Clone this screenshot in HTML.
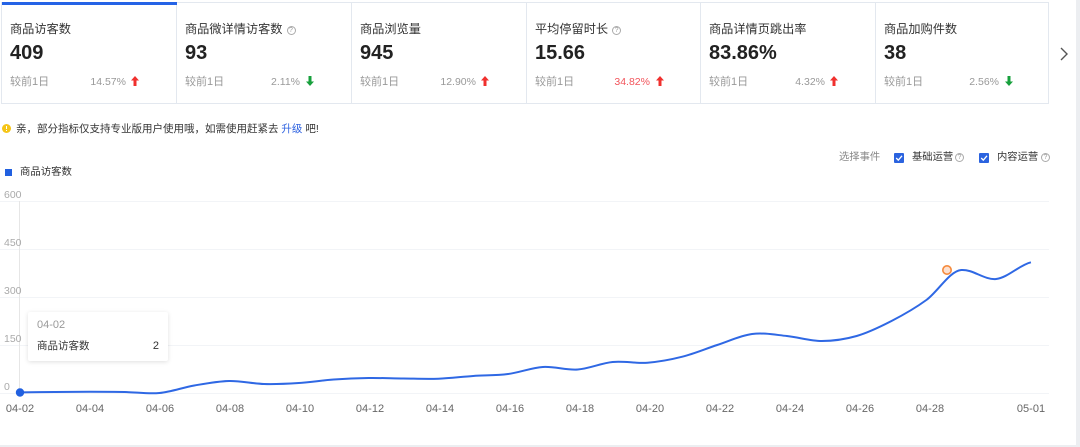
<!DOCTYPE html>
<html><head><meta charset="utf-8"><style>
*{margin:0;padding:0;box-sizing:border-box}
html,body{width:1080px;height:447px;overflow:hidden;background:#eceef1;font-family:"Liberation Sans","Noto Sans CJK SC",sans-serif}
#panel{position:absolute;left:0;top:0;width:1076px;height:445px;background:#fff}
.cards{position:absolute;left:1px;top:2px;width:1048px;height:102px;border:1px solid #e3e8ef}
.card{position:absolute;top:0;height:100px;border-right:1px solid #e3e8ef}
.t{position:absolute;left:8px;top:18px;font-size:12.2px;color:#333;white-space:nowrap;line-height:16px}
.v{position:absolute;left:8px;top:38px;font-size:20px;font-weight:bold;color:#222;line-height:24px}
.f{position:absolute;left:8px;top:72px;font-size:11px;color:#999;line-height:14px;white-space:nowrap}
.p{position:absolute;right:auto;top:72px;width:80px;font-size:10.5px;color:#999;line-height:14px;text-align:right}
.ar{position:absolute;top:73px}
.q{display:inline-block;width:9px;height:9px;border:1px solid #aaa;border-radius:50%;font-size:7px;line-height:7px;text-align:center;color:#999;vertical-align:1px;margin-left:4px}
.abs{position:absolute;white-space:nowrap}
.cb{position:absolute;width:10px;height:10px;background:#2b63df;border-radius:1px}
</style></head><body>
<div id="panel">
<div class="cards">
  <div style="position:absolute;left:0;top:-1px;width:175px;height:3px;background:#2563e6;z-index:2"></div>
  <div class="card" style="left:0;width:175px">
    <div class="t">商品访客数</div><div class="v">409</div><div class="f">较前1日</div>
    <div class="p" style="left:44px">14.57%</div>
    <svg class="ar" style="left:129px" width="8" height="10" viewBox="0 0 8 10"><path d="M4 0L8 4.5H5.5V10H2.5V4.5H0Z" fill="#f0302e"/></svg>
  </div>
  <div class="card" style="left:175px;width:175px">
    <div class="t">商品微详情访客数<span class="q">?</span></div><div class="v">93</div><div class="f">较前1日</div>
    <div class="p" style="left:43px">2.11%</div>
    <svg class="ar" style="left:129px" width="8" height="10" viewBox="0 0 8 10"><path d="M4 10L8 5.5H5.5V0H2.5V5.5H0Z" fill="#17a03c"/></svg>
  </div>
  <div class="card" style="left:350px;width:175px">
    <div class="t">商品浏览量</div><div class="v">945</div><div class="f">较前1日</div>
    <div class="p" style="left:44px">12.90%</div>
    <svg class="ar" style="left:129px" width="8" height="10" viewBox="0 0 8 10"><path d="M4 0L8 4.5H5.5V10H2.5V4.5H0Z" fill="#f0302e"/></svg>
  </div>
  <div class="card" style="left:525px;width:174px">
    <div class="t">平均停留时长<span class="q">?</span></div><div class="v">15.66</div><div class="f">较前1日</div>
    <div class="p" style="left:43px;color:#f2545b">34.82%</div>
    <svg class="ar" style="left:129px" width="8" height="10" viewBox="0 0 8 10"><path d="M4 0L8 4.5H5.5V10H2.5V4.5H0Z" fill="#f0302e"/></svg>
  </div>
  <div class="card" style="left:699px;width:175px">
    <div class="t">商品详情页跳出率</div><div class="v">83.86%</div><div class="f">较前1日</div>
    <div class="p" style="left:44px">4.32%</div>
    <svg class="ar" style="left:129px" width="8" height="10" viewBox="0 0 8 10"><path d="M4 0L8 4.5H5.5V10H2.5V4.5H0Z" fill="#f0302e"/></svg>
  </div>
  <div class="card" style="left:874px;width:173px;border-right:none">
    <div class="t">商品加购件数</div><div class="v">38</div><div class="f">较前1日</div>
    <div class="p" style="left:43px">2.56%</div>
    <svg class="ar" style="left:129px" width="8" height="10" viewBox="0 0 8 10"><path d="M4 10L8 5.5H5.5V0H2.5V5.5H0Z" fill="#17a03c"/></svg>
  </div>
</div>
<svg class="abs" style="left:1058px;top:46px" width="12" height="16" viewBox="0 0 12 16"><path d="M3 2L9 8L3 14" fill="none" stroke="#555" stroke-width="1.4"/></svg>

<div class="abs" style="left:2px;top:124px;width:9px;height:9px;border-radius:50%;background:#f5c518"></div>
<div class="abs" style="left:6px;top:126px;width:1px;height:3px;background:#fff"></div>
<div class="abs" style="left:6px;top:130px;width:1px;height:1px;background:#fff"></div>
<div class="abs" style="left:16px;top:121px;font-size:10.5px;line-height:16px;color:#333">亲，部分指标仅支持专业版用户使用哦，如需使用赶紧去 <span style="color:#2e62e0">升级</span> 吧!</div>

<div class="abs" style="left:839px;top:150px;font-size:10.3px;line-height:16px;color:#888">选择事件</div>
<div class="cb" style="left:894px;top:153px"></div>
<svg class="abs" style="left:894px;top:153px" width="10" height="10"><path d="M2.2 5L4.3 7.2L8 2.8" fill="none" stroke="#fff" stroke-width="1.3"/></svg>
<div class="abs" style="left:912px;top:150px;font-size:10.3px;line-height:16px;color:#333">基础运营</div>
<div class="abs" style="left:955px;top:153px;width:9px;height:9px;border:1px solid #aaa;border-radius:50%;font-size:7px;line-height:7px;text-align:center;color:#999">?</div>
<div class="cb" style="left:979px;top:153px"></div>
<svg class="abs" style="left:979px;top:153px" width="10" height="10"><path d="M2.2 5L4.3 7.2L8 2.8" fill="none" stroke="#fff" stroke-width="1.3"/></svg>
<div class="abs" style="left:997px;top:150px;font-size:10.3px;line-height:16px;color:#333">内容运营</div>
<div class="abs" style="left:1041px;top:153px;width:9px;height:9px;border:1px solid #aaa;border-radius:50%;font-size:7px;line-height:7px;text-align:center;color:#999">?</div>

<div class="abs" style="left:5px;top:169px;width:7px;height:7px;background:#2160e0"></div>
<div class="abs" style="left:20px;top:165px;font-size:10.4px;line-height:16px;color:#333">商品访客数</div>

<svg class="abs" style="left:0;top:0" width="1076" height="445" viewBox="0 0 1076 445">
  <g stroke="#f2f4f7" stroke-width="1">
    <line x1="0" y1="201.5" x2="1049" y2="201.5"/>
    <line x1="0" y1="249.5" x2="1049" y2="249.5"/>
    <line x1="0" y1="297.5" x2="1049" y2="297.5"/>
    <line x1="0" y1="345.5" x2="1049" y2="345.5"/>
    <line x1="0" y1="393.5" x2="1049" y2="393.5"/>
  </g>
  <line x1="19.5" y1="201" x2="19.5" y2="393" stroke="#e6e6e6"/>
  <g font-family="Liberation Sans, sans-serif" font-size="10.5" fill="#aaa">
    <text x="4" y="198">600</text>
    <text x="4" y="246">450</text>
    <text x="4" y="294">300</text>
    <text x="4" y="342">150</text>
    <text x="4" y="390">0</text>
  </g>
  <g font-family="Liberation Sans, sans-serif" font-size="11" fill="#666" text-anchor="middle">
    <text x="20" y="412">04-02</text>
    <text x="90" y="412">04-04</text>
    <text x="160" y="412">04-06</text>
    <text x="230" y="412">04-08</text>
    <text x="300" y="412">04-10</text>
    <text x="370" y="412">04-12</text>
    <text x="440" y="412">04-14</text>
    <text x="510" y="412">04-16</text>
    <text x="580" y="412">04-18</text>
    <text x="650" y="412">04-20</text>
    <text x="720" y="412">04-22</text>
    <text x="790" y="412">04-24</text>
    <text x="860" y="412">04-26</text>
    <text x="930" y="412">04-28</text>
    <text x="1031" y="412">05-01</text>
  </g>
  <path fill="none" stroke="#2f68e4" stroke-width="2" d="M20,392.4
C31.62,392.33 43.24,392.1 54.86,392
C66.48,391.9 78.1,391.8 89.72,391.8
C101.34,391.8 112.96,391.8 124.58,392
C136.2,392.2 147.82,394.08 159.44,393
C171.06,391.92 182.68,387.5 194.3,385.5
C205.92,383.5 217.54,381.25 229.16,381
C240.78,380.75 252.4,383.67 264.02,384
C275.64,384.33 287.26,383.75 298.88,383
C310.5,382.25 322.12,380.33 333.74,379.5
C345.36,378.67 356.98,378.17 368.6,378
C380.22,377.83 391.84,378.38 403.46,378.5
C415.08,378.62 426.7,379.12 438.32,378.7
C449.94,378.28 461.56,376.78 473.18,376
C484.8,375.22 496.42,375.5 508.04,374
C519.66,372.5 531.28,367.75 542.9,367
C554.52,366.25 566.14,370.33 577.76,369.5
C589.38,368.67 601,363.13 612.62,362
C624.24,360.87 635.86,363.58 647.48,362.7
C659.1,361.82 670.72,359.65 682.34,356.7
C693.96,353.75 705.58,348.78 717.2,345
C728.82,341.22 740.44,335.5 752.06,334
C763.68,332.5 775.3,334.83 786.92,336
C798.54,337.17 810.16,341 821.78,341
C833.4,341 845.02,339.33 856.64,336
C868.26,332.67 879.88,327 891.5,321
C903.12,315 914.74,308.5 926.36,300
C937.98,291.5 949.6,271 961.22,270
C972.84,269 984.46,280.28 996.08,279
C1007.7,277.72 1019.32,265.08 1030.94,262.3"/>
  <circle cx="20" cy="392.5" r="4.2" fill="#2160e0"/>
  <circle cx="947" cy="270" r="4.2" fill="#fde0cf" stroke="#f58a3c" stroke-width="1.6"/>
</svg>

<div class="abs" style="left:28px;top:312px;width:140px;height:49px;background:#fff;box-shadow:0 1px 5px rgba(0,0,0,0.13);border-radius:2px">
  <div class="abs" style="left:9px;top:6px;font-size:11px;line-height:14px;color:#999">04-02</div>
  <div class="abs" style="left:9px;top:27px;font-size:10.5px;line-height:14px;color:#333">商品访客数</div>
  <div class="abs" style="right:9px;top:27px;font-size:11px;line-height:14px;color:#333">2</div>
</div>
</div>
</body></html>
